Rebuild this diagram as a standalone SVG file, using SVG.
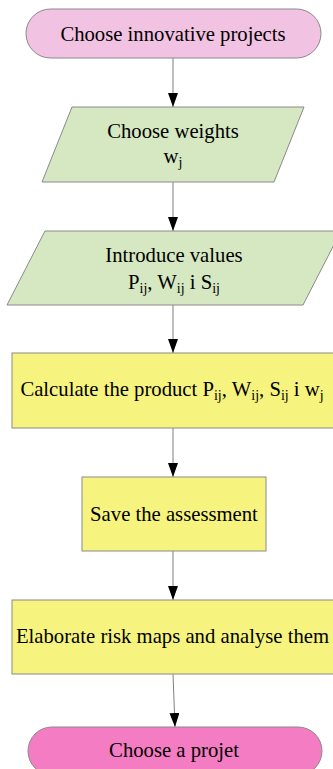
<svg xmlns="http://www.w3.org/2000/svg" width="333" height="769" viewBox="0 0 333 769">
<style>
text{font-family:"Liberation Serif","Times New Roman",serif;font-size:20.7px;fill:#000;text-anchor:middle}
.sub{font-size:14px}
.shape{stroke:#8a8a8a;stroke-width:1}
.conn{stroke:#7f7f7f;stroke-width:1;fill:none}
</style>
<defs>
<marker id="arr" viewBox="0 0 14 10" refX="14" refY="5" markerWidth="14" markerHeight="10" markerUnits="userSpaceOnUse" orient="auto">
<path d="M0,0 L14,5 L0,10 z" fill="#000"/>
</marker>
</defs>
<rect width="333" height="769" fill="#fff"/>
<g id="connectors">
<line class="conn" x1="173" y1="58" x2="173" y2="107" marker-end="url(#arr)"/>
<line class="conn" x1="173" y1="182" x2="173" y2="231" marker-end="url(#arr)"/>
<line class="conn" x1="173" y1="305" x2="173" y2="353" marker-end="url(#arr)"/>
<line class="conn" x1="173" y1="428" x2="173" y2="477" marker-end="url(#arr)"/>
<line class="conn" x1="173" y1="551" x2="173" y2="600" marker-end="url(#arr)"/>
<line class="conn" x1="173" y1="674" x2="175" y2="727" marker-end="url(#arr)"/>
</g>
<g id="start">
<rect class="shape" x="26" y="9" width="295" height="49" rx="24.5" fill="#f2c2e2"/>
<text x="173" y="41">Choose innovative projects</text>
</g>
<g id="weights">
<polygon class="shape" points="72,107 304,107 274,182 42,182" fill="#d5e8c2"/>
<text x="173" y="138">Choose weights</text>
<text x="173" y="163">w<tspan class="sub" dy="4">j</tspan></text>
</g>
<g id="values">
<polygon class="shape" points="45,231 341,231 303,305 7,305" fill="#d5e8c2"/>
<text x="174" y="262">Introduce values</text>
<text x="174" y="289">P<tspan class="sub" dy="4">ij</tspan><tspan dy="-4">, W</tspan><tspan class="sub" dy="4">ij</tspan><tspan dy="-4"> i S</tspan><tspan class="sub" dy="4">ij</tspan></text>
</g>
<g id="calculate">
<rect class="shape" x="12" y="353" width="330" height="75" fill="#f6f47e"/>
<text x="172" y="396">Calculate the product P<tspan class="sub" dy="4">ij</tspan><tspan dy="-4">, W</tspan><tspan class="sub" dy="4">ij</tspan><tspan dy="-4">, S</tspan><tspan class="sub" dy="4">ij</tspan><tspan dy="-4"> i w</tspan><tspan class="sub" dy="4">j</tspan></text>
</g>
<g id="save">
<rect class="shape" x="82" y="477" width="184" height="74" fill="#f6f47e"/>
<text x="174" y="521">Save the assessment</text>
</g>
<g id="maps">
<rect class="shape" x="12" y="600" width="330" height="74" fill="#f6f47e"/>
<text x="172.5" y="643">Elaborate risk maps and analyse them</text>
</g>
<g id="end">
<rect class="shape" x="28" y="727" width="294" height="48" rx="24" fill="#f47cc2"/>
<text x="174" y="757">Choose a projet</text>
</g>
</svg>
